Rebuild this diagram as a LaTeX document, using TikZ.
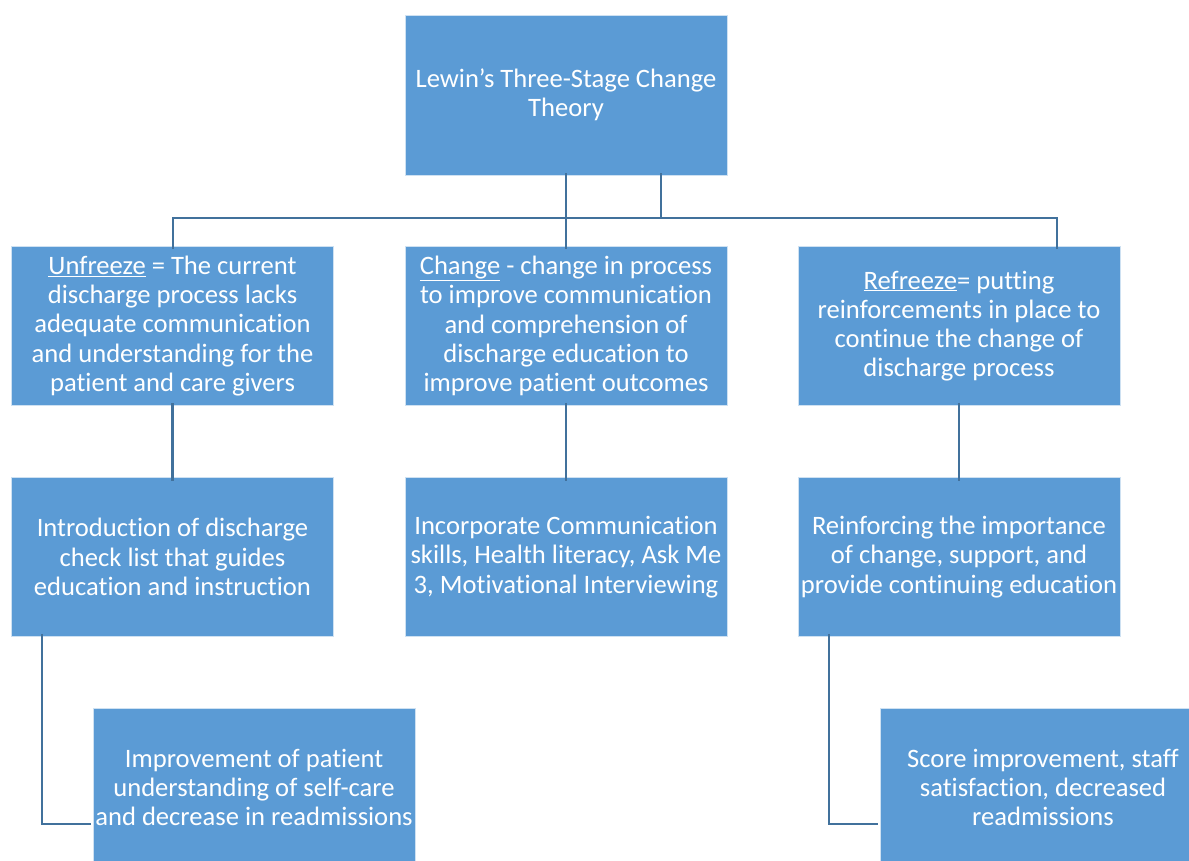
\documentclass[tikz,border=0pt]{standalone}
\usepackage{fontspec}
\setmainfont{Carlito}[Ligatures={NoCommon}]
\definecolor{boxblue}{HTML}{5B9BD5}
\definecolor{linkblue}{HTML}{41719C}
\begin{document}
\begin{tikzpicture}[x=1pt,y=-1pt,
  box/.style={rectangle,fill=boxblue,draw=white!70!boxblue,line width=0.8pt,
    text=white,inner sep=0pt,align=center,minimum width=322pt,minimum height=159pt,
    font=\fontsize{26.6}{29.2}\selectfont},
  conn/.style={draw=linkblue,line width=2.8pt}]
\useasboundingbox (0,0) rectangle (1189,861);
\begin{scope}
\clip (0,0) rectangle (1189,861);
\node[box,minimum height=160pt] (top) at (566,95) {Lewin’s Three-Stage Change\\Theory};
\node[box] (unf) at (172.5,326) {\underline{Unfreeze} = The current\\discharge process lacks\\adequate communication\\and understanding for the\\patient and care givers};
\node[box] (chg) at (566,326) {\underline{Change} - change in process\\to improve communication\\and comprehension of\\discharge education to\\improve patient outcomes};
\node[box] (ref) at (959,326) {\underline{Refreeze}= putting\\reinforcements in place to\\continue the change of\\discharge process};
\node[box] (unf2) at (172.5,557) {Introduction of discharge\\check list that guides\\education and instruction};
\node[box] (chg2) at (566,557) {Incorporate Communication\\skills, Health literacy, Ask Me\\3, Motivational Interviewing};
\node[box] (ref2) at (959,557) {Reinforcing the importance\\of change, support, and\\provide continuing education};
\node[box] (unf3) at (254,787.5) {Improvement of patient\\understanding of self-care\\and decrease in readmissions};
\node[box,minimum width=326pt] (ref3) at (1043,787.5) {Score improvement, staff\\satisfaction, decreased\\readmissions};
\end{scope}
% top connectors
\coordinate (barL) at (173,218);
\coordinate (barR) at (1057,218);
\coordinate (barM) at (661,218);
\draw[conn] ([yshift=2pt]top.south) -- ([yshift=-3pt]chg.north);
\draw[conn] ([yshift=2pt]top.south -| barM) -- (barM);
\draw[conn] ([yshift=-3pt]unf.north -| barL) -- (barL) -- (barR) -- ([yshift=-3pt]ref.north -| barR);
% row 1 to row 2
\draw[conn] ([yshift=3pt]unf.south) -- ([yshift=-4pt]unf2.north);
\draw[conn] ([yshift=3pt]chg.south) -- ([yshift=-4pt]chg2.north);
\draw[conn] ([yshift=3pt]ref.south) -- ([yshift=-4pt]ref2.north);
% elbows
\coordinate (eL) at (42,824);
\coordinate (eR) at (829,824);
\draw[conn] ([yshift=3pt]unf2.south -| eL) -- (eL) -- ([xshift=-2pt]unf3.west |- eL);
\draw[conn] ([yshift=3pt]ref2.south -| eR) -- (eR) -- ([xshift=-2pt]ref3.west |- eR);
\end{tikzpicture}
\end{document}
